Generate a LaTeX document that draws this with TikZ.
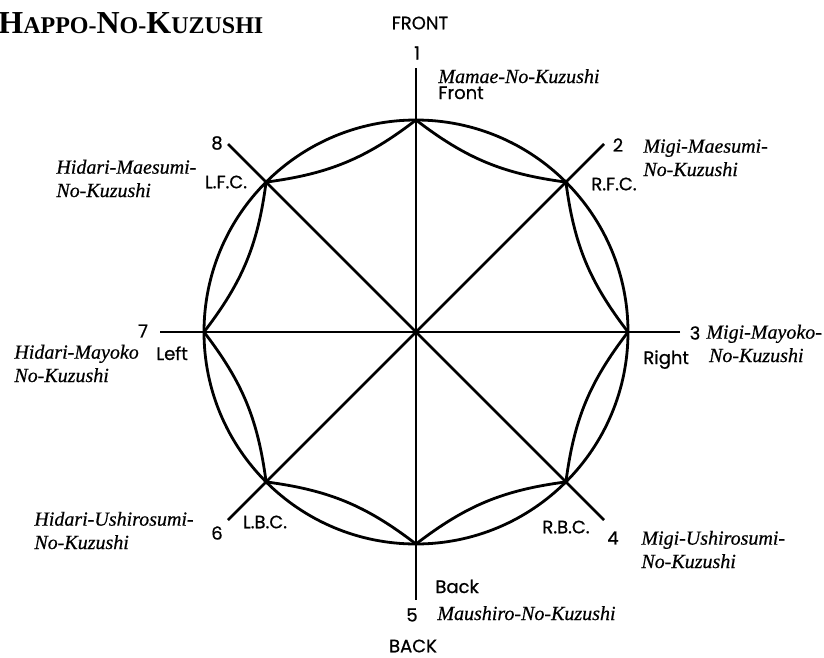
\documentclass[tikz,border=0pt]{standalone}
\usepackage{fontspec}
\setmainfont{Liberation Serif}
\newfontfamily\gothicfont[FakeBold=0.7]{Poppins}
\newfontfamily\namefont[ItalicFeatures={FakeBold=0.5}]{Liberation Serif}
\usetikzlibrary{positioning}

\tikzset{
  kuzushi/.style={font=\namefont\fontsize{15}{17.5}\selectfont\itshape, inner sep=0pt, anchor=base west, align=left},
  gothic/.style={font=\gothicfont\fontsize{13.5}{15}\selectfont, inner sep=0pt},
  point/.style={gothic, anchor=base west}
}

\begin{document}
\begin{tikzpicture}[x=0.75pt, y=-0.75pt, line width=2.1pt]
  \useasboundingbox (0,0) rectangle (824,657);
  \coordinate (O) at (416,332);
  \draw (O) circle (212);
  % points on the circle, 1 = front, clockwise
  \foreach \k in {1,...,8}
    \coordinate (p\k) at ([shift={(O)}] {45*\k-135}:212);
  \foreach \a/\b in {1/2,2/3,3/4,4/5,5/6,6/7,7/8,8/1}
    \draw (p\a) to[bend right=15] (p\b);
  % free ends of the four lines
  \coordinate (e1) at (416,68);  \coordinate (e5) at (416,600);
  \coordinate (e3) at (680,332); \coordinate (e7) at (160,332);
  \coordinate (e2) at (604,144); \coordinate (e6) at (228,520);
  \coordinate (e8) at (228,144); \coordinate (e4) at (604,520);
  \foreach \a/\b in {1/5,2/6,3/7,4/8}
    \draw (e\a) -- (e\b);

  \node[anchor=base west, inner sep=0pt] (title) at (-3,33)
    {\bfseries\fontsize{24}{24}\selectfont H\fontsize{18}{18}\selectfont APPO-\fontsize{24}{24}\selectfont N\fontsize{18}{18}\selectfont O-\fontsize{24}{24}\selectfont K\fontsize{18}{18}\selectfont UZUSHI};

  \node[gothic] (front) at (420,23) {FRONT};
  \node[gothic] (back) at (413,646) {BACK};
  \node[gothic] (n1) at (417,53) {1};
  \node[gothic] (n2) at (618,145) {2};
  \node[gothic] (n3) at (695,333) {3};
  \node[gothic] (n4) at (613,538) {4};
  \node[gothic] (n5) at (412,615) {5};
  \node[gothic] (n6) at (217,533) {6};
  \node[gothic] (n7) at (143,331) {7};
  \node[gothic] (n8) at (217,143) {8};

  \node[point] (tfront) at (437,99) {Front};
  \node[point] (tback) at (434,593) {Back};
  \node[point] (tleft) at (155,360) {Left};
  \node[point] (tright) at (642,364) {Right};
  \node[gothic] (rfc) at (614,184) {R.F.C.};
  \node[gothic] (lfc) at (226,182) {L.F.C.};
  \node[gothic] (rbc) at (566,527) {R.B.C.};
  \node[gothic] (lbc) at (265,522) {L.B.C.};

  % two-line labels sit on the baseline of their last line
  \node[kuzushi] (k1) at (437,83) {Mamae-No-Kuzushi};
  \node[kuzushi] (k2) at (642,176) {Migi-Maesumi-\\No-Kuzushi};
  \node[kuzushi] (k3) at (705,362) {Migi-Mayoko-\\\hspace*{2pt}No-Kuzushi};
  \node[kuzushi] (k4) at (640,568) {Migi-Ushirosumi-\\No-Kuzushi};
  \node[kuzushi] (k5) at (436,620) {Maushiro-No-Kuzushi};
  \node[kuzushi] (k6) at (33,549) {Hidari-Ushirosumi-\\No-Kuzushi};
  \node[kuzushi] (k7) at (13,382) {Hidari-Mayoko\\No-Kuzushi};
  \node[kuzushi] (k8) at (55,197) {Hidari-Maesumi-\\No-Kuzushi};
\end{tikzpicture}
\end{document}
